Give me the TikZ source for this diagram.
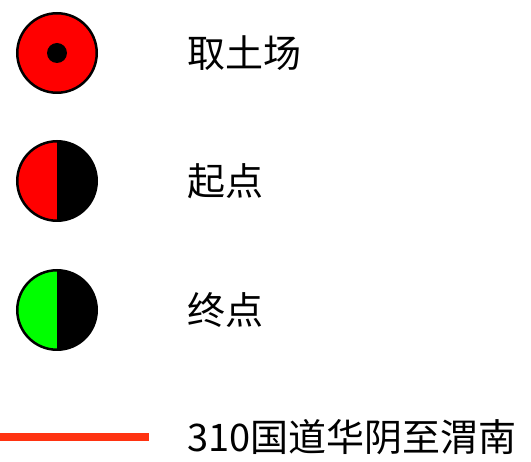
\documentclass[tikz,border=0pt]{standalone}
\usepackage{fontspec}
\newfontfamily\cjk{Noto Sans CJK SC}
\usetikzlibrary{positioning}
\definecolor{roadred}{RGB}{255,51,17}

\begin{document}
\begin{tikzpicture}[x=1pt,y=1pt]
	  \tikzset{sign/.style= {draw, circle, line width=2.5pt, minimum size=79.5pt, inner sep=0pt},
	  	halfsign/.style={sign, path picture={
	  		\fill[#1] (path picture bounding box.south west) rectangle (path picture bounding box.north);
	  		\fill[black] (path picture bounding box.south) rectangle (path picture bounding box.north east);
	  	}},
	  	pit/.style={circle, fill=black, minimum size=20pt, inner sep=0pt},
	  	legend/.style={anchor=west, inner sep=0pt, font=\cjk\fontsize{38}{42}\selectfont},
	  }
	  \useasboundingbox (0,0) rectangle (531,-462);
	  \node [sign, fill=red] (quarry) at (57,-53) {};
	  \node [pit] (quarrypit) at (quarry) {};
	  \node [halfsign=red] (start) at (57,-181) {};
	  \node [halfsign=green] (finish) at (57,-310) {};
	  \coordinate (roadwest) at (0,-437.5);
	  \coordinate (roadeast) at (149,-437.5);
	  
	  %% labels
	  \node [legend, right =89pt of quarry] (quarrytext) {取土场};
	  \node [legend, right =89pt of start] (starttext) {起点};
	  \node [legend, right =89pt of finish] (finishtext) {终点};
	  \node [legend, right =38pt of roadeast] (roadtext) {310国道华阴至渭南};
	  
	  %% road
	  \path[draw, line width=8pt, roadred] (roadwest) -- (roadeast);
	  \end{tikzpicture}
\end{document}
